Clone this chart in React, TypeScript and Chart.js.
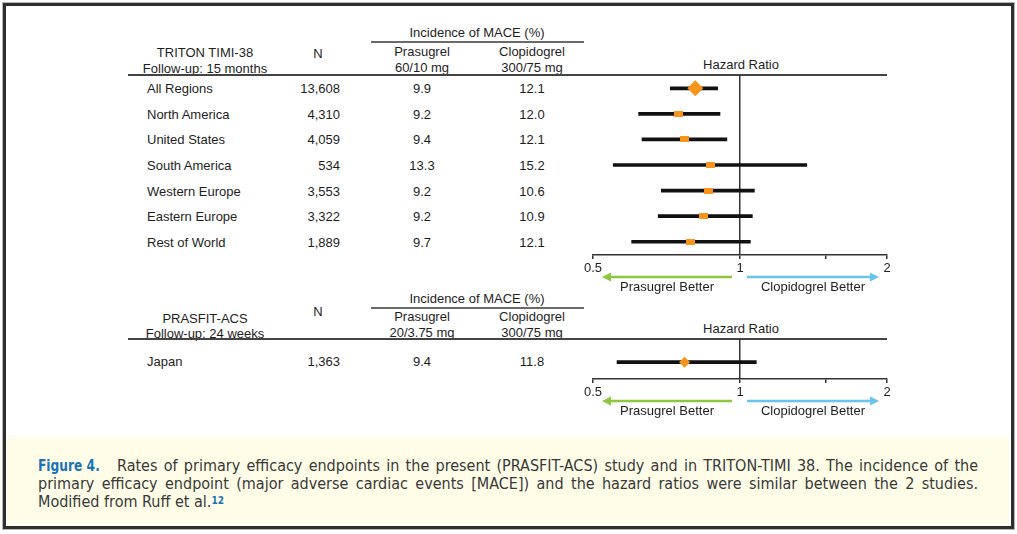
import React, { useEffect, useRef } from 'react';
import { Chart, registerables } from 'chart.js';

Chart.register(...registerables);

// ---------------- data ----------------
const TRITON_REGIONS = ['All Regions', 'North America', 'United States', 'South America', 'Western Europe', 'Eastern Europe', 'Rest of World'];
const TRITON_N = ['13,608', '4,310', '4,059', '534', '3,553', '3,322', '1,889'];
const TRITON_PRASUGREL = [9.9, 9.2, 9.4, 13.3, 9.2, 9.2, 9.7];
const TRITON_CLOPIDOGREL = [12.1, 12.0, 12.1, 15.2, 10.6, 10.9, 12.1];
const TRITON_HR = [0.81, 0.75, 0.77, 0.87, 0.86, 0.84, 0.79];
const TRITON_HR_LOW = [0.72, 0.62, 0.63, 0.55, 0.69, 0.68, 0.60];
const TRITON_HR_HIGH = [0.90, 0.91, 0.94, 1.37, 1.07, 1.06, 1.05];
const TRITON_DIAMOND = [true, false, false, false, false, false, false];

const PRASFIT_REGIONS = ['Japan'];
const PRASFIT_N = ['1,363'];
const PRASFIT_PRASUGREL = [9.4];
const PRASFIT_CLOPIDOGREL = [11.8];
const PRASFIT_HR = [0.77];
const PRASFIT_HR_LOW = [0.56];
const PRASFIT_HR_HIGH = [1.08];
const PRASFIT_DIAMOND = [true];

const HR_TICKS = [0.5, 1, 1.5, 2];
const HR_TICK_LABELS = ['0.5', '1', '', '2'];
const ARROW_LABELS = ['Prasugrel Better', 'Clopidogrel Better'];

// ---------------- style ----------------
const FONT = "'Liberation Sans', Arial, Helvetica, sans-serif";
const TEXT = '#1e1e1e';
const ORANGE = '#f7941d';
const GREEN = '#8dc63f';
const BLUE = '#67c3ef';

Chart.defaults.font.family = FONT;
Chart.defaults.color = TEXT;

function drawArrow(ctx: CanvasRenderingContext2D, from: number, to: number, y: number, color: string) {
  const dir = to > from ? 1 : -1;
  ctx.save();
  ctx.strokeStyle = color;
  ctx.fillStyle = color;
  ctx.lineWidth = 2.5;
  ctx.beginPath();
  ctx.moveTo(from, y);
  ctx.lineTo(to - dir * 6, y);
  ctx.stroke();
  ctx.beginPath();
  ctx.moveTo(to, y);
  ctx.lineTo(to - dir * 9, y - 4.5);
  ctx.lineTo(to - dir * 9, y + 4.5);
  ctx.closePath();
  ctx.fill();
  ctx.restore();
}

const arrowPlugin = {
  id: 'betterArrows',
  afterDraw(chart: any) {
    const { ctx, chartArea, scales } = chart;
    const mid = scales.x.getPixelForValue(1);
    const y = chartArea.bottom + 22;
    const gFrom = mid - 8, gTo = chartArea.left + 9;
    const bFrom = mid + 7, bTo = chartArea.right - 8;
    drawArrow(ctx, gFrom, gTo, y, GREEN);
    drawArrow(ctx, bFrom, bTo, y, BLUE);
    ctx.save();
    ctx.fillStyle = TEXT;
    ctx.font = `13px ${FONT}`;
    ctx.textAlign = 'center';
    ctx.textBaseline = 'middle';
    ctx.fillText(ARROW_LABELS[0], (gFrom + gTo) / 2, chartArea.bottom + 32);
    ctx.fillText(ARROW_LABELS[1], (bFrom + bTo) / 2, chartArea.bottom + 32);
    ctx.restore();
  },
};

type ForestProps = {
  hr: number[]; low: number[]; high: number[]; diamond: boolean[];
  left: number; top: number; width: number; height: number;
  yMin: number; yMax: number; diamondRadius: number;
};

function ForestPlot(p: ForestProps) {
  const ref = useRef<HTMLCanvasElement>(null);
  useEffect(() => {
    if (!ref.current) return;
    const box = document.createElement('canvas');
    box.width = 9;
    box.height = 6;
    const bctx = box.getContext('2d')!;
    bctx.fillStyle = ORANGE;
    bctx.fillRect(0, 0, 9, 6);

    const chart = new Chart(ref.current, {
      type: 'bar',
      data: {
        datasets: [
          {
            type: 'scatter',
            data: p.hr.map((v, i) => ({ x: v, y: i })),
            pointStyle: p.diamond.map((d) => (d ? 'rectRot' : box)) as any,
            pointRadius: p.diamond.map((d) => (d ? p.diamondRadius : 5)),
            backgroundColor: ORANGE,
            borderColor: ORANGE,
            borderWidth: 0,
            order: 0,
          } as any,
          {
            type: 'bar',
            indexAxis: 'y',
            data: p.low.map((l, i) => ({ x: [l, p.high[i]], y: i })),
            backgroundColor: '#111111',
            barThickness: 3,
            borderWidth: 0,
            borderSkipped: false,
            order: 1,
          } as any,
        ],
      },
      options: {
        responsive: false,
        animation: false,
        events: [],
        layout: { padding: { left: 20, right: 20, top: 10, bottom: 0 } },
        plugins: { legend: { display: false }, tooltip: { enabled: false } },
        scales: {
          x: {
            type: 'logarithmic',
            min: 0.5,
            max: 2,
            offset: false,
            beginAtZero: false,
            afterBuildTicks: (s: any) => { s.ticks = HR_TICKS.map((v) => ({ value: v })); },
            afterFit: (s: any) => { s.height = 42; },
            ticks: {
              callback: (_v: any, i: number) => HR_TICK_LABELS[i] ?? '',
              autoSkip: false,
              maxRotation: 0,
              padding: 2,
              color: TEXT,
              font: { size: 13 },
            },
            grid: {
              offset: false,
              drawOnChartArea: true,
              color: (c: any) => (c.tick && c.tick.value === 1 ? '#333333' : 'rgba(0,0,0,0)'),
              lineWidth: 1.5,
              tickLength: 4,
              tickColor: '#333333',
              tickWidth: 1.5,
            },
            border: { display: true, color: '#333333', width: 1.5 },
          } as any,
          y: {
            type: 'linear',
            min: p.yMin,
            max: p.yMax,
            reverse: true,
            display: false,
            offset: false,
          } as any,
        },
      },
      plugins: [arrowPlugin],
    });
    return () => chart.destroy();
  }, []);
  return (
    <canvas
      ref={ref}
      width={p.width}
      height={p.height}
      style={{ position: 'absolute', left: p.left, top: p.top, width: p.width, height: p.height }}
    />
  );
}

function T({ x, y, a = 'c', children, style }: any) {
  const tx = a === 'c' ? '-50%' : a === 'r' ? '-100%' : '0';
  return (
    <div
      style={{
        position: 'absolute', left: x, top: y, transform: `translate(${tx}, -50%)`,
        whiteSpace: 'nowrap', lineHeight: 1, ...style,
      }}
    >
      {children}
    </div>
  );
}

function HLine({ x, y, w, h = 2, c = '#555' }: any) {
  return <div style={{ position: 'absolute', left: x, top: y, width: w, height: h, background: c }} />;
}

function Header({ study, follow, drug, hrY, lineY, incY, incLineY, nY, drugY, studyY, followY, drugDoseY }: any) {
  return (
    <>
      <T x={477} y={incY}>Incidence of MACE (%)</T>
      <HLine x={371} y={incLineY} w={213} c="#6a6a6a" />
      <T x={205} y={studyY}>{study}</T>
      <T x={205} y={followY}>{follow}</T>
      <T x={318} y={nY}>N</T>
      <T x={422} y={drugY}>Prasugrel</T>
      <T x={422} y={drugDoseY}>{drug}</T>
      <T x={532} y={drugY}>Clopidogrel</T>
      <T x={532} y={drugDoseY}>300/75 mg</T>
      <T x={741} y={hrY}>Hazard Ratio</T>
      <HLine x={128} y={lineY} w={759} c="#444" />
    </>
  );
}

function Rows({ regions, n, pra, clo, y0, step }: any) {
  return (
    <>
      {regions.map((r: string, i: number) => {
        const y = y0 + i * step;
        return (
          <React.Fragment key={r}>
            <T x={147} y={y} a="l">{r}</T>
            <T x={340} y={y} a="r">{n[i]}</T>
            <T x={422} y={y}>{pra[i].toFixed(1)}</T>
            <T x={532} y={y}>{clo[i].toFixed(1)}</T>
          </React.Fragment>
        );
      })}
    </>
  );
}

const CAP_FONT = "'Liberation Sans Narrow', 'Arial Narrow', 'DejaVu Sans Condensed', sans-serif";
const CAP_BLUE = '#1b72b8';

export default function App() {
  const ROW0 = 88.3;
  const STEP = 25.57;
  return (
    <div
      style={{
        position: 'absolute', left: 0, top: 0, width: 1017, height: 534, background: '#fff',
        fontFamily: FONT, fontSize: 13, color: TEXT, overflow: 'hidden',
      }}
    >
      <div
        style={{
          position: 'absolute', left: 3, top: 3, width: 1011, height: 526,
          border: '3px solid #2e2e2e', boxSizing: 'border-box', boxShadow: '0 0 0 1px #b5b5b5',
        }}
      />
      {/* TRITON section */}
      <Header
        study="TRITON TIMI-38" follow="Follow-up: 15 months" drug="60/10 mg"
        incY={32} incLineY={41} studyY={52} followY={68} nY={53} drugY={51} drugDoseY={67}
        hrY={64} lineY={74}
      />
      <Rows regions={TRITON_REGIONS} n={TRITON_N} pra={TRITON_PRASUGREL} clo={TRITON_CLOPIDOGREL} y0={ROW0} step={STEP} />
      <ForestPlot
        hr={TRITON_HR} low={TRITON_HR_LOW} high={TRITON_HR_HIGH} diamond={TRITON_DIAMOND}
        left={573} top={65} width={334} height={232}
        yMin={-(ROW0 - 75) / STEP} yMax={(255 - ROW0) / STEP} diamondRadius={8}
      />

      {/* PRASFIT section */}
      <Header
        study="PRASFIT-ACS" follow="Follow-up: 24 weeks" drug="20/3.75 mg"
        incY={298} incLineY={307} studyY={318} followY={333} nY={311} drugY={316} drugDoseY={332}
        hrY={328} lineY={338}
      />
      <Rows regions={PRASFIT_REGIONS} n={PRASFIT_N} pra={PRASFIT_PRASUGREL} clo={PRASFIT_CLOPIDOGREL} y0={361} step={STEP} />
      <ForestPlot
        hr={PRASFIT_HR} low={PRASFIT_HR_LOW} high={PRASFIT_HR_HIGH} diamond={PRASFIT_DIAMOND}
        left={573} top={329} width={334} height={92}
        yMin={-(361 - 339) / 38} yMax={(377 - 361) / 38} diamondRadius={5.5}
      />

      {/* caption */}
      <div style={{ position: 'absolute', left: 7, top: 437, width: 1002, height: 88, background: '#fffde8' }} />
      <div style={{ position: 'absolute', left: 38, top: 457, width: 940, fontFamily: CAP_FONT, fontSize: 16, lineHeight: '18px', color: '#383838' }}>
        <div style={{ textAlign: 'justify', textAlignLast: 'justify', whiteSpace: 'nowrap' } as any}>
          <span style={{ display: 'inline-block', width: 79, verticalAlign: 'baseline' }}>
            <span style={{ display: 'inline-block', color: CAP_BLUE, fontWeight: 'bold', transform: 'scaleX(0.85)', transformOrigin: 'left center' }}>Figure 4.</span>
          </span>
          Rates of primary efficacy endpoints in the present (PRASFIT-ACS) study and in TRITON-TIMI 38. The incidence of the
        </div>
        <div style={{ textAlign: 'justify', textAlignLast: 'justify', whiteSpace: 'nowrap' } as any}>
          primary efficacy endpoint (major adverse cardiac events [MACE]) and the hazard ratios were similar between the 2 studies.
        </div>
        <div style={{ whiteSpace: 'nowrap' }}>
          Modified from Ruff et al.
          <sup style={{ color: CAP_BLUE, fontWeight: 'bold', fontSize: 10, verticalAlign: 'top', position: 'relative', top: -1 }}>12</sup>
        </div>
      </div>
    </div>
  );
}
